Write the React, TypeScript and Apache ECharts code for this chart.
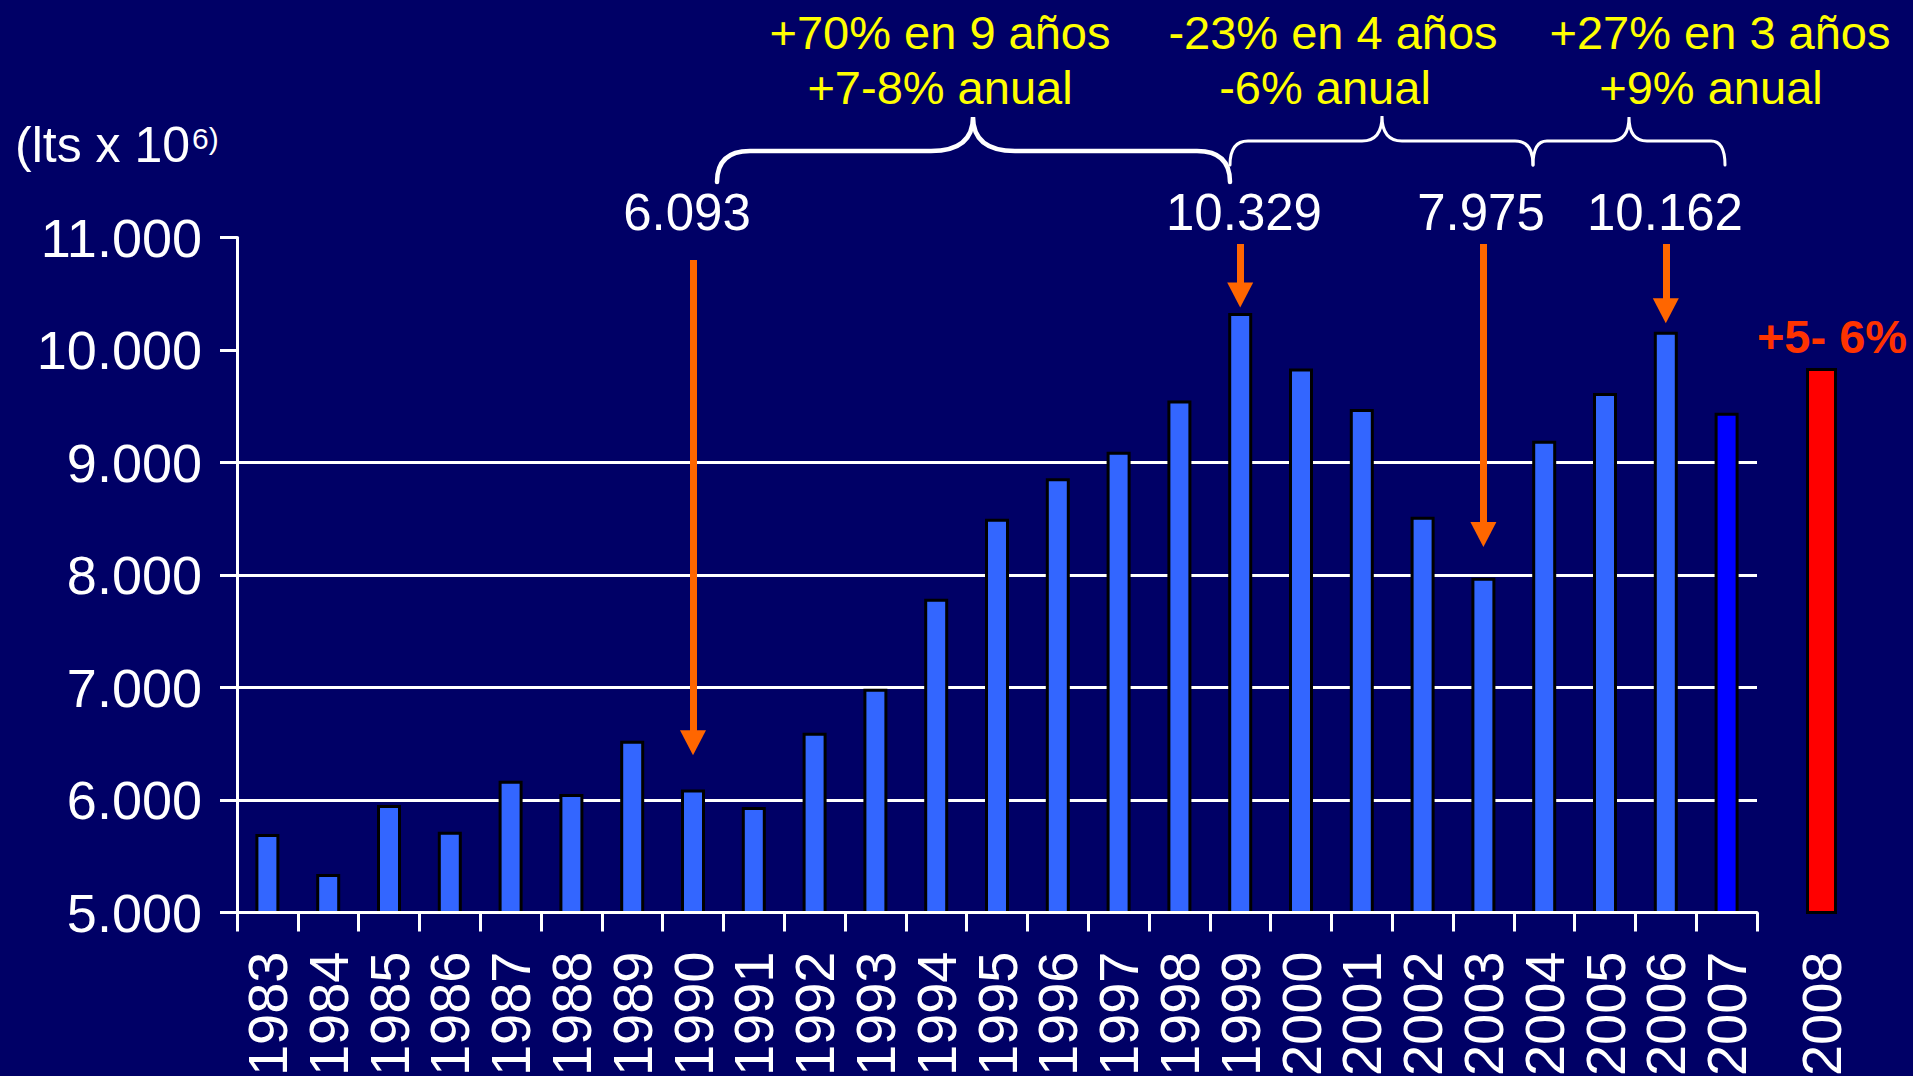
import React, { useEffect, useRef } from 'react';
import * as echarts from 'echarts';

// ---- data ----
const years = ['1983','1984','1985','1986','1987','1988','1989','1990','1991','1992','1993','1994','1995','1996','1997','1998','1999','2000','2001','2002','2003','2004','2005','2006','2007'];
const consumption = [5698, 5342, 5956, 5718, 6172, 6053, 6527, 6093, 5938, 6598, 6990, 7790, 8500, 8860, 9095, 9552, 10329, 9835, 9476, 8517, 7975, 9193, 9617, 10162, 9443];
const highlightYear = '2007';
const forecastYears = ['2008'];
const forecastValues = [9840];
const yTickValues = [5000, 6000, 7000, 8000, 9000, 10000, 11000];
const yTickLabels = ['5.000', '6.000', '7.000', '8.000', '9.000', '10.000', '11.000'];
const gridLineValues = [6000, 7000, 8000, 9000];
const arrowYears = ['1990', '1999', '2003', '2006'];
const arrowStart = [10800, 10942, 10942, 10942];
const arrowEnd = [6510, 10490, 8360, 10350];
const peakLabels = ['6.093', '10.329', '7.975', '10.162'];
const periodLine1 = ['+70% en 9 años', '-23% en 4 años', '+27% en 3 años'];
const periodLine2 = ['+7-8% anual', '-6% anual', '+9% anual'];
const forecastNote = '+5- 6%';
const unitLabel = '(lts x 10';
const unitSup = '6)';

// ---- layout (annotations) ----
const FONT = "'Liberation Sans', Arial, sans-serif";
const peakLabelX = [687, 1244, 1481, 1665];
const periodX1 = [940, 1333, 1720];
const periodX2 = [940, 1325, 1711];
const braces = [
  { x0: 717, x1: 1230, xp: 973, yl: 151, ye: 182, yp: 117, r: 33, rp: 42, w: 4.5 },
  { x0: 1230, x1: 1533, xp: 1382, yl: 141, ye: 165, yp: 116, r: 18, rp: 20, w: 3 },
  { x0: 1533, x1: 1725, xp: 1629, yl: 141, ye: 165, yp: 117, r: 14, rp: 18, w: 3 },
];

function braceD(b: any) {
  const { x0, x1, xp, yl, ye, yp, r, rp } = b;
  return `M${x0} ${ye} Q${x0} ${yl} ${x0 + r} ${yl} L${xp - rp} ${yl} Q${xp} ${yl} ${xp} ${yp} Q${xp} ${yl} ${xp + rp} ${yl} L${x1 - r} ${yl} Q${x1} ${yl} ${x1} ${ye}`;
}

export default function App() {
  const ref = useRef<HTMLDivElement>(null);
  useEffect(() => {
    document.body.style.margin = '0';
    document.body.style.overflow = 'hidden';
    braces.forEach((b, i) => {
      echarts.graphic.registerShape('brace' + i, echarts.graphic.extendPath(braceD(b), {}) as any);
    });
    const chart = echarts.init(ref.current!, null, { renderer: 'svg' });

    const whiteLabel = { color: '#ffffff', fontFamily: FONT };
    const splitColors = yTickValues.map(v => (gridLineValues.includes(v) ? '#ffffff' : 'rgba(0,0,0,0)'));

    const graphic: any[] = [];
    graphic.push({ type: 'text', x: 15, y: 145, style: { text: unitLabel, fill: '#fff', fontSize: 50, fontFamily: FONT, align: 'left', verticalAlign: 'middle' } });
    graphic.push({ type: 'text', x: 192, y: 138, style: { text: unitSup, fill: '#fff', fontSize: 30, fontFamily: FONT, align: 'left', verticalAlign: 'middle' } });
    periodLine1.forEach((t, i) => {
      graphic.push({ type: 'text', x: periodX1[i], y: 32, style: { text: t, fill: '#ffff00', fontSize: 47, fontFamily: FONT, align: 'center', verticalAlign: 'middle' } });
      graphic.push({ type: 'text', x: periodX2[i], y: 87, style: { text: periodLine2[i], fill: '#ffff00', fontSize: 47, fontFamily: FONT, align: 'center', verticalAlign: 'middle' } });
    });
    peakLabels.forEach((t, i) => {
      graphic.push({ type: 'text', x: peakLabelX[i], y: 212, style: { text: t, fill: '#fff', fontSize: 51, fontFamily: FONT, align: 'center', verticalAlign: 'middle' } });
    });
    graphic.push({ type: 'text', x: 1832, y: 336, style: { text: forecastNote, fill: '#ff3300', fontSize: 47, fontWeight: 'bold', fontFamily: FONT, align: 'center', verticalAlign: 'middle' } });
    braces.forEach((b, i) => {
      graphic.push({ type: 'brace' + i, x: 0, y: 0, style: { stroke: '#ffffff', lineWidth: b.w, fill: 'none', lineCap: 'round' } });
    });

    chart.setOption({
      animation: false,
      backgroundColor: '#000066',
      grid: [
        { left: 237, top: 237.5, width: 1520, height: 675, outerBoundsMode: 'none', containLabel: false },
        { left: 1791, top: 237.5, width: 61, height: 675, outerBoundsMode: 'none', containLabel: false },
      ],
      xAxis: [
        {
          type: 'category', gridIndex: 0, data: years, z: 5,
          axisLine: { show: true, lineStyle: { color: '#ffffff', width: 3 } },
          axisTick: { show: true, length: 19, alignWithLabel: false, lineStyle: { color: '#ffffff', width: 3 } },
          axisLabel: { ...whiteLabel, interval: 0, rotate: 90, fontSize: 56, margin: 39 },
          splitLine: { show: false },
        },
        {
          type: 'category', gridIndex: 1, data: forecastYears,
          axisLine: { show: false }, axisTick: { show: false },
          axisLabel: { ...whiteLabel, interval: 0, rotate: 90, fontSize: 56, margin: 39 },
          splitLine: { show: false },
        },
      ],
      yAxis: [
        {
          type: 'value', gridIndex: 0, min: 5000, max: 11000, interval: 1000,
          axisLine: { show: true, lineStyle: { color: '#ffffff', width: 3 } },
          axisTick: { show: true, inside: false, length: 17, lineStyle: { color: '#ffffff', width: 3 } },
          axisLabel: { ...whiteLabel, fontSize: 54, margin: 35, formatter: (v: number) => yTickLabels[yTickValues.indexOf(v)] ?? '' },
          splitLine: { show: true, lineStyle: { color: splitColors, width: 3 } },
        },
        { type: 'value', gridIndex: 1, min: 5000, max: 11000, interval: 1000, show: false, splitLine: { show: false } },
      ],
      series: [
        {
          type: 'bar', xAxisIndex: 0, yAxisIndex: 0, barWidth: 24,
          itemStyle: { color: '#3366ff', borderColor: '#000000', borderWidth: 3 },
          data: consumption.map((v, i) => (years[i] === highlightYear ? { value: v, itemStyle: { color: '#0000ff' } } : v)),
          markLine: {
            silent: true,
            symbol: ['none', 'triangle'],
            symbolSize: [26, 25],
            label: { show: false },
            lineStyle: { color: '#ff6600', width: 7, type: 'solid' },
            data: arrowYears.map((y, i) => [{ coord: [y, arrowStart[i]] }, { coord: [y, arrowEnd[i]] }]),
          },
        },
        {
          type: 'bar', xAxisIndex: 1, yAxisIndex: 1, barWidth: 31,
          itemStyle: { color: '#ff0000', borderColor: '#000000', borderWidth: 3 },
          data: forecastValues,
        },
      ],
      graphic,
    });
    return () => chart.dispose();
  }, []);
  return <div ref={ref} style={{ width: 1913, height: 1076 }} />;
}
